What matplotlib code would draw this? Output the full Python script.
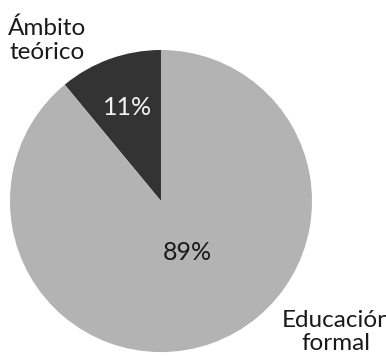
import matplotlib.pyplot as plt

categories = ["Ámbito\nteórico", "Educación\nformal"]
shares = [11, 89]
colors = ["#333333", "#b3b3b3"]

plt.rcParams["font.family"] = ["Lato", "DejaVu Sans"]

fig = plt.figure(figsize=(3.86, 3.56), dpi=100)
ax = fig.add_axes([0, 0, 1, 1])

wedges, texts, autotexts = ax.pie(
    shares, colors=colors, startangle=90, counterclock=True,
    autopct="%d%%", pctdistance=0.66, radius=1.0,
    textprops={"fontsize": 18},
)
autotexts[0].set_color("#f2f2f2")
autotexts[1].set_color("#1a1a1a")
autotexts[1].set_position((0.172, -0.338))

ax.text(-0.755, 1.066, categories[0], ha="center", va="center",
        fontsize=17.5, color="#1a1a1a", linespacing=1.15)
ax.text(1.16, -0.868, categories[1], ha="center", va="center",
        fontsize=17.5, color="#1a1a1a", linespacing=1.15)

ax.set_xlim(-1.066, 1.490)
ax.set_ylim(-1.026, 1.331)
ax.set_aspect("auto")
ax.axis("off")

fig.savefig("out.png", dpi=100)
plt.close(fig)
